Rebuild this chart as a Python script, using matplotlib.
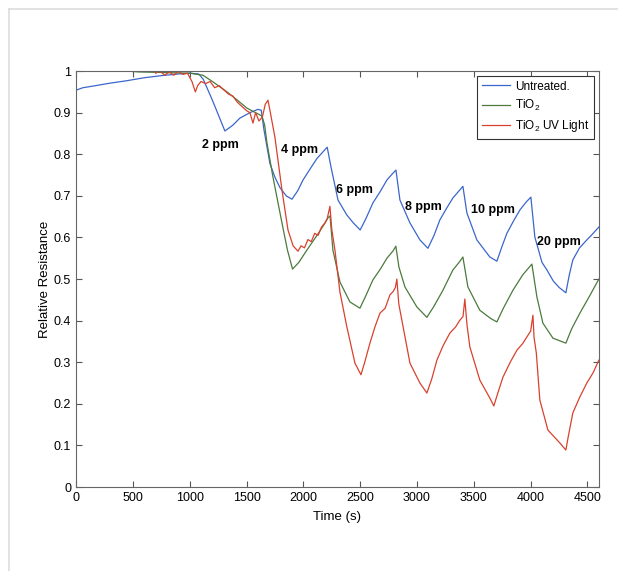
import matplotlib
matplotlib.use("Agg")
import matplotlib.pyplot as plt
from matplotlib.lines import Line2D

plt.rcParams["font.family"] = ["Liberation Sans", "DejaVu Sans"]
plt.rcParams["mathtext.fontset"] = "custom"
plt.rcParams["mathtext.rm"] = "Liberation Sans"

# Untreated sensor
t_untreated = [0, 30, 60, 150, 300, 450, 600, 750, 900, 1000, 1080, 1120, 1200, 1310,
               1380, 1442, 1530, 1600, 1630, 1653, 1706, 1750, 1794, 1850, 1900, 1950,
               1997, 2060, 2120, 2170, 2210, 2243, 2305, 2383, 2440, 2500, 2550, 2612,
               2680, 2735, 2780, 2815, 2850, 2938, 3026, 3096, 3150, 3201, 3260, 3316,
               3370, 3404, 3439, 3527, 3641, 3703, 3750, 3791, 3850, 3905, 3960, 4002,
               4037, 4100, 4143, 4200, 4250, 4310, 4340, 4371, 4430, 4494, 4530, 4600]
r_untreated = [0.954, 0.957, 0.96, 0.964, 0.971, 0.977, 0.984, 0.989, 0.993, 0.995, 0.993,
               0.98, 0.93, 0.856, 0.87, 0.887, 0.9, 0.908, 0.906, 0.86, 0.778, 0.745, 0.72,
               0.70, 0.692, 0.712, 0.738, 0.765, 0.79, 0.805, 0.817, 0.77, 0.69, 0.654,
               0.635, 0.618, 0.645, 0.683, 0.712, 0.738, 0.752, 0.762, 0.69, 0.635, 0.594,
               0.574, 0.605, 0.642, 0.67, 0.695, 0.712, 0.723, 0.659, 0.594, 0.553, 0.543,
               0.58, 0.61, 0.64, 0.666, 0.685, 0.697, 0.601, 0.54, 0.522, 0.495, 0.48,
               0.467, 0.51, 0.546, 0.575, 0.594, 0.604, 0.625]

# TiO2 coated
t_tio2 = [450, 550, 700, 850, 1000, 1117, 1200, 1328, 1420, 1504, 1580, 1636, 1660, 1680,
          1733, 1812, 1860, 1905, 1960, 2032, 2120, 2180, 2216, 2235, 2260, 2322, 2410,
          2498, 2550, 2612, 2680, 2735, 2790, 2814, 2841, 2894, 2999, 3087, 3150, 3228,
          3316, 3370, 3404, 3448, 3553, 3650, 3703, 3760, 3844, 3930, 4011, 4055, 4108,
          4196, 4310, 4360, 4433, 4520, 4600]
r_tio2 = [1.0, 0.998, 0.997, 0.996, 0.995, 0.99, 0.975, 0.95, 0.93, 0.911, 0.9, 0.892,
          0.87, 0.827, 0.745, 0.635, 0.57, 0.524, 0.54, 0.57, 0.605, 0.63, 0.647, 0.652,
          0.57, 0.493, 0.445, 0.43, 0.46, 0.498, 0.525, 0.55, 0.568, 0.579, 0.529, 0.481,
          0.433, 0.408, 0.435, 0.473, 0.522, 0.54, 0.553, 0.481, 0.425, 0.405, 0.397,
          0.43, 0.473, 0.51, 0.536, 0.457, 0.394, 0.358, 0.346, 0.38, 0.418, 0.46, 0.5]

# TiO2 under UV light
t_uv = [700, 740, 780, 820, 860, 900, 940, 980, 1020, 1050, 1070, 1100, 1140, 1180, 1220,
        1260, 1300, 1340, 1380, 1420, 1460, 1500, 1530, 1557, 1580, 1610, 1640, 1665,
        1689, 1710, 1750, 1812, 1865, 1910, 1953, 1980, 2010, 2040, 2070, 2100, 2130,
        2160, 2190, 2210, 2234, 2250, 2278, 2322, 2383, 2454, 2507, 2540, 2586, 2630,
        2674, 2720, 2762, 2790, 2810, 2823, 2840, 2867, 2938, 3026, 3087, 3130, 3175,
        3230, 3289, 3340, 3377, 3405, 3421, 3440, 3465, 3553, 3641, 3676, 3710, 3756,
        3820, 3879, 3930, 3967, 4000, 4020, 4030, 4050, 4081, 4152, 4257, 4310, 4330,
        4371, 4430, 4494, 4550, 4600]
r_uv = [0.995, 1.0, 0.99, 0.998, 0.99, 1.0, 0.992, 0.995, 0.975, 0.95, 0.965, 0.975, 0.97,
        0.975, 0.96, 0.965, 0.955, 0.945, 0.94, 0.925, 0.915, 0.905, 0.9, 0.875, 0.9,
        0.88, 0.89, 0.92, 0.93, 0.9, 0.841, 0.714, 0.618, 0.58, 0.567, 0.58, 0.575,
        0.595, 0.59, 0.61, 0.605, 0.625, 0.635, 0.645, 0.675, 0.62, 0.57, 0.469, 0.385,
        0.298, 0.27, 0.3, 0.346, 0.385, 0.418, 0.43, 0.462, 0.47, 0.48, 0.5, 0.44, 0.401,
        0.298, 0.25, 0.226, 0.26, 0.305, 0.34, 0.37, 0.385, 0.401, 0.41, 0.452, 0.39,
        0.337, 0.257, 0.214, 0.195, 0.225, 0.264, 0.3, 0.329, 0.345, 0.361, 0.375, 0.413,
        0.36, 0.322, 0.209, 0.137, 0.106, 0.089, 0.12, 0.178, 0.215, 0.25, 0.275, 0.305]

# concentration labels (time, resistance)
conc_labels = ["2 ppm", "4 ppm", "6 ppm", "8 ppm", "10 ppm", "20 ppm"]
conc_t = [1266, 1970, 2454, 3052, 3667, 4248]
conc_r = [0.822, 0.81, 0.714, 0.673, 0.666, 0.589]

fig = plt.figure(figsize=(6.18, 5.71), dpi=100)
ax = fig.add_axes([0.123, 0.147, 0.846, 0.7285])

ax.plot(t_untreated, r_untreated, color="#3a66cc", lw=0.9, label="Untreated.")
ax.plot(t_tio2, r_tio2, color="#4b7a3c", lw=0.9, label="TiO$_2$")
ax.plot(t_uv, r_uv, color="#d9412e", lw=0.9, label="TiO$_2$ UV Light")

for lab, x, y in zip(conc_labels, conc_t, conc_r):
    ax.text(x, y, lab, ha="center", va="center", fontsize=9, fontweight="bold")

ax.set_xlim(0, 4600)
ax.set_ylim(0, 1)
ax.set_xticks(range(0, 4501, 500))
ax.set_yticks([i / 10 for i in range(11)])
ax.set_yticklabels(["0"] + [f"{i / 10:g}" for i in range(1, 10)] + ["1"])
ax.tick_params(direction="in", top=True, right=True, length=4, labelsize=9,
               color="#555555")
for s in ax.spines.values():
    s.set_color("#666666")
ax.set_xlabel("Time (s)", fontsize=9.5, labelpad=5)
ax.set_ylabel("Relative Resistance", fontsize=9.5, labelpad=2)

leg = ax.legend(loc="upper right", fontsize=8.5, fancybox=False, framealpha=1,
                edgecolor="#333333", handlelength=2.4, handletextpad=0.4,
                borderaxespad=0.4, labelspacing=0.45)
leg.get_frame().set_linewidth(0.8)

# light page frame around the figure
fig.add_artist(Line2D([9 / 618, 9 / 618], [0, 1 - 9 / 571], color="#dddddd", lw=1.2))
fig.add_artist(Line2D([9 / 618, 1], [1 - 9 / 571, 1 - 9 / 571], color="#dddddd", lw=1.2))

fig.savefig("out.png", dpi=100)
